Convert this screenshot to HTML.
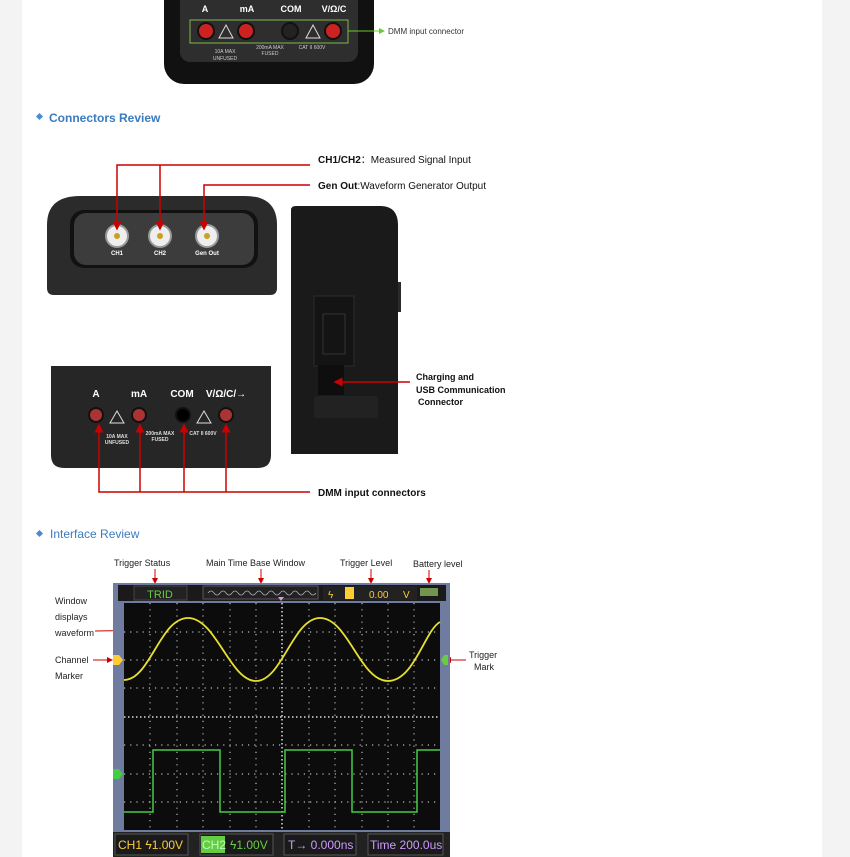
<!DOCTYPE html>
<html><head><meta charset="utf-8"><style>
body{margin:0;background:#fff}
svg{display:block}
text{font-family:"Liberation Sans",sans-serif}
</style></head><body>
<svg width="850" height="857" viewBox="0 0 850 857" xmlns="http://www.w3.org/2000/svg">
<defs>
<marker id="ar" markerWidth="6" markerHeight="6" refX="5" refY="3" orient="auto"><path d="M0,0 L6,3 L0,6z" fill="#c00"/></marker>
<marker id="ag" markerWidth="6" markerHeight="6" refX="5" refY="3" orient="auto"><path d="M0,0 L6,3 L0,6z" fill="#6c3"/></marker>
</defs>
<rect x="0" y="0" width="850" height="857" fill="#f3f3f3"/>
<rect x="22" y="0" width="800" height="857" fill="#fff"/>

<!-- top device -->
<rect x="164" y="-20" width="210" height="104" rx="20" fill="#111"/>
<rect x="180" y="-10" width="178" height="72" rx="10" fill="#2e2e2e"/>
<g fill="#fff" font-size="9" font-weight="bold" text-anchor="middle">
<text x="205" y="12">A</text><text x="247" y="12">mA</text><text x="291" y="12">COM</text><text x="334" y="12">V/Ω/C</text></g>
<rect x="190" y="20" width="158" height="23" fill="none" stroke="#7fb84a" stroke-width="1"/>
<g stroke="#111" stroke-width="2"><circle cx="206" cy="31" r="8" fill="#c22"/><circle cx="246" cy="31" r="8" fill="#c22"/><circle cx="290" cy="31" r="8" fill="#222"/><circle cx="333" cy="31" r="8" fill="#c22"/></g>
<g fill="none" stroke="#ddd"><path d="M219,38 L226,25 L233,38z"/><path d="M306,38 L313,25 L320,38z"/></g>
<g fill="#ccc" font-size="5" text-anchor="middle"><text x="225" y="53">10A MAX</text><text x="225" y="60">UNFUSED</text><text x="270" y="49">200mA MAX</text><text x="270" y="55">FUSED</text><text x="312" y="49">CAT II 600V</text></g>
<path d="M348,31 L384,31" stroke="#6c3" marker-end="url(#ag)"/>
<text x="388" y="34" font-size="8" fill="#333">DMM input connector</text>

<!-- Connectors Review -->
<rect x="37" y="114" width="5" height="5" fill="#4a8ad0" transform="rotate(45 39.5 116.5)"/>
<text x="49" y="122" font-size="12" font-weight="bold" fill="#3a7bbf">Connectors Review</text>

<path d="M47,288 L47,225 Q47,196 80,196 L245,196 Q277,196 277,225 L277,288 Q277,295 270,295 L54,295 Q47,295 47,288z" fill="#2b2b2b"/>
<rect x="70" y="210" width="188" height="58" rx="14" fill="#111"/>
<rect x="74" y="213" width="180" height="52" rx="12" fill="#3c3c3c"/>
<g stroke="#999" stroke-width="2"><circle cx="117" cy="236" r="11" fill="#eee"/><circle cx="160" cy="236" r="11" fill="#eee"/><circle cx="207" cy="236" r="11" fill="#eee"/></g>
<g fill="#c9a020"><circle cx="117" cy="236" r="3"/><circle cx="160" cy="236" r="3"/><circle cx="207" cy="236" r="3"/></g>
<g fill="#fff" font-size="6" font-weight="bold" text-anchor="middle"><text x="117" y="255">CH1</text><text x="160" y="255">CH2</text><text x="207" y="255">Gen Out</text></g>
<g stroke="#c00" stroke-width="1.5" fill="none">
<path d="M310,165 L117,165 L117,229" marker-end="url(#ar)"/>
<path d="M160,165 L160,229" marker-end="url(#ar)"/>
<path d="M310,185 L204,185 L204,229" marker-end="url(#ar)"/>
</g>
<text x="318" y="163" font-size="10" fill="#111"><tspan font-weight="bold">CH1/CH2</tspan>：Measured Signal Input</text>
<text x="318" y="189" font-size="10" fill="#111"><tspan font-weight="bold">Gen Out</tspan>:Waveform Generator Output</text>

<path d="M291,454 L291,210 Q291,206 296,206 L380,206 Q398,206 398,225 L398,454z" fill="#1a1a1a"/>
<rect x="398" y="282" width="3" height="30" fill="#2a2a2a"/>
<rect x="314" y="296" width="40" height="70" fill="#141414" stroke="#2c2c2c"/>
<rect x="323" y="314" width="22" height="40" fill="none" stroke="#333"/>
<rect x="318" y="365" width="26" height="30" fill="#0e0e0e"/>
<rect x="314" y="396" width="64" height="22" rx="3" fill="#222"/>
<path d="M410,382 L335,382" stroke="#c00" stroke-width="1.5" marker-end="url(#ar)"/>
<g font-size="9" font-weight="bold" fill="#111"><text x="416" y="380">Charging and</text><text x="416" y="393">USB Communication</text><text x="418" y="405">Connector</text></g>

<path d="M51,366 L271,366 L271,455 Q271,468 258,468 L64,468 Q51,468 51,455z" fill="#262626"/>
<g fill="#fff" font-size="10" font-weight="bold" text-anchor="middle"><text x="96" y="397">A</text><text x="139" y="397">mA</text><text x="182" y="397">COM</text><text x="226" y="397">V/Ω/C/→</text></g>
<g stroke="#111" stroke-width="2"><circle cx="96" cy="415" r="7" fill="#a33"/><circle cx="139" cy="415" r="7" fill="#a33"/><circle cx="183" cy="415" r="7" fill="#000"/><circle cx="226" cy="415" r="7" fill="#a33"/></g>
<g fill="none" stroke="#ddd"><path d="M110,423 L117,411 L124,423z"/><path d="M197,423 L204,411 L211,423z"/></g>
<g fill="#ddd" font-size="5" font-weight="bold" text-anchor="middle"><text x="117" y="438">10A MAX</text><text x="117" y="444">UNFUSED</text><text x="160" y="435">200mA MAX</text><text x="160" y="441">FUSED</text><text x="203" y="435">CAT II 600V</text></g>
<g stroke="#c00" stroke-width="1.5" fill="none">
<path d="M310,492 L99,492 L99,425" marker-end="url(#ar)"/>
<path d="M140,492 L140,425" marker-end="url(#ar)"/>
<path d="M184,492 L184,425" marker-end="url(#ar)"/>
<path d="M226,492 L226,425" marker-end="url(#ar)"/>
</g>
<text x="318" y="496" font-size="10" font-weight="bold" fill="#111">DMM input connectors</text>

<!-- Interface Review -->
<rect x="37" y="531" width="5" height="5" fill="#4a8ad0" transform="rotate(45 39.5 533.5)"/>
<text x="50" y="538" font-size="12" fill="#3a7bbf">Interface Review</text>

<g font-size="9" fill="#222">
<text x="114" y="566">Trigger Status</text><text x="206" y="566">Main Time  Base Window</text>
<text x="340" y="566">Trigger Level</text><text x="413" y="567">Battery level</text>
<text x="55" y="604">Window</text><text x="55" y="620">displays</text><text x="55" y="636">waveform</text>
<text x="55" y="663">Channel</text><text x="55" y="679">Marker</text>
<text x="469" y="658">Trigger</text><text x="474" y="670">Mark</text>
</g>
<g stroke="#c00" stroke-width="1" fill="none">
<path d="M155,569 L155,583" marker-end="url(#ar)"/><path d="M261,569 L261,583" marker-end="url(#ar)"/>
<path d="M371,569 L371,583" marker-end="url(#ar)"/><path d="M429,570 L429,583" marker-end="url(#ar)"/>
<path d="M95,631 L167,630" marker-end="url(#ar)"/><path d="M93,660 L112,660" marker-end="url(#ar)"/>
<path d="M466,660 L446,660" marker-end="url(#ar)"/>
</g>

<rect x="113" y="583" width="337" height="274" fill="#6f7ca0"/>
<rect x="118" y="585" width="328" height="16" fill="#1a1a1a"/>
<rect x="134" y="586" width="53" height="14" fill="#222" stroke="#444"/>
<text x="160" y="598" font-size="11" fill="#6c4" text-anchor="middle">TRID</text>
<rect x="203" y="586" width="115" height="13" fill="#222" stroke="#555"/>
<path d="M208,593 q3,-4 6,0 t6,0 t6,0 t6,0 t6,0 t6,0 t6,0 t6,0 t6,0 t6,0 t6,0 t6,0 t6,0 t6,0 t6,0 t6,0 t6,0 t6,0" stroke="#aab" fill="none" stroke-width="0.8"/>
<rect x="323" y="586" width="94" height="14" fill="#222"/>
<text x="328" y="598" font-size="10" fill="#fc3">ϟ</text>
<rect x="345" y="587" width="9" height="12" fill="#fc3"/>
<text x="369" y="598" font-size="10" fill="#fc3">0.00</text><text x="403" y="598" font-size="10" fill="#fc3">V</text>
<rect x="420" y="588" width="18" height="8" fill="#9c6" opacity="0.7"/>
<path d="M281,601 l-3,-4 h6z" fill="#d9c"/>

<rect x="124" y="603" width="316" height="227" fill="#0c0c0c"/>
<g stroke="#bbb" stroke-width="1.2" stroke-dasharray="1.2 5">
<path d="M150,603V830M177,603V830M203,603V830M230,603V830M256,603V830M309,603V830M335,603V830M362,603V830M388,603V830M414,603V830"/>
<path d="M124,632H440M124,660H440M124,688H440M124,745H440M124,774H440M124,802H440"/>
</g>
<g stroke="#ddd" stroke-width="1.5" stroke-dasharray="1.5 2.5"><path d="M282,603V830M124,717H440"/></g>
<path d="M124,680 C150,680 160,618 188,618 C216,618 230,681 256,681 C282,681 293,618 320,618 C348,618 360,681 388,681 C414,681 425,630 440,622" stroke="#e8e030" stroke-width="1.8" fill="none"/>
<path d="M124,812 H153 V750 H220 V812 H285 V750 H352 V812 H417 V750 H440" stroke="#4c4" stroke-width="1.5" fill="none"/>
<path d="M113,655 h6 l4,5 l-4,5 h-6z" fill="#fc3"/>
<path d="M113,769 h6 l4,5 l-4,5 h-6z" fill="#4c4"/>
<path d="M448,655 h-4 l-3,5 l3,5 h4z" fill="#6c4"/>

<rect x="113" y="832" width="337" height="25" fill="#222"/>
<rect x="115" y="834" width="73" height="21" fill="#1a1a1a" stroke="#555"/>
<text x="118" y="849" font-size="12" fill="#fc3">CH1 ϟ1.00V</text>
<rect x="200" y="834" width="73" height="21" fill="#1a1a1a" stroke="#555"/>
<rect x="201" y="836" width="24" height="17" fill="#6c4"/>
<text x="202" y="849" font-size="12" fill="#bfb">CH2</text><text x="230" y="849" font-size="12" fill="#6c4">ϟ1.00V</text>
<rect x="284" y="834" width="72" height="21" fill="#1a1a1a" stroke="#555"/>
<text x="288" y="849" font-size="12" fill="#c9f">T→ 0.000ns</text>
<rect x="368" y="834" width="75" height="21" fill="#1a1a1a" stroke="#555"/>
<text x="370" y="849" font-size="12" fill="#c9f">Time 200.0us</text>
</svg>
</body></html>
